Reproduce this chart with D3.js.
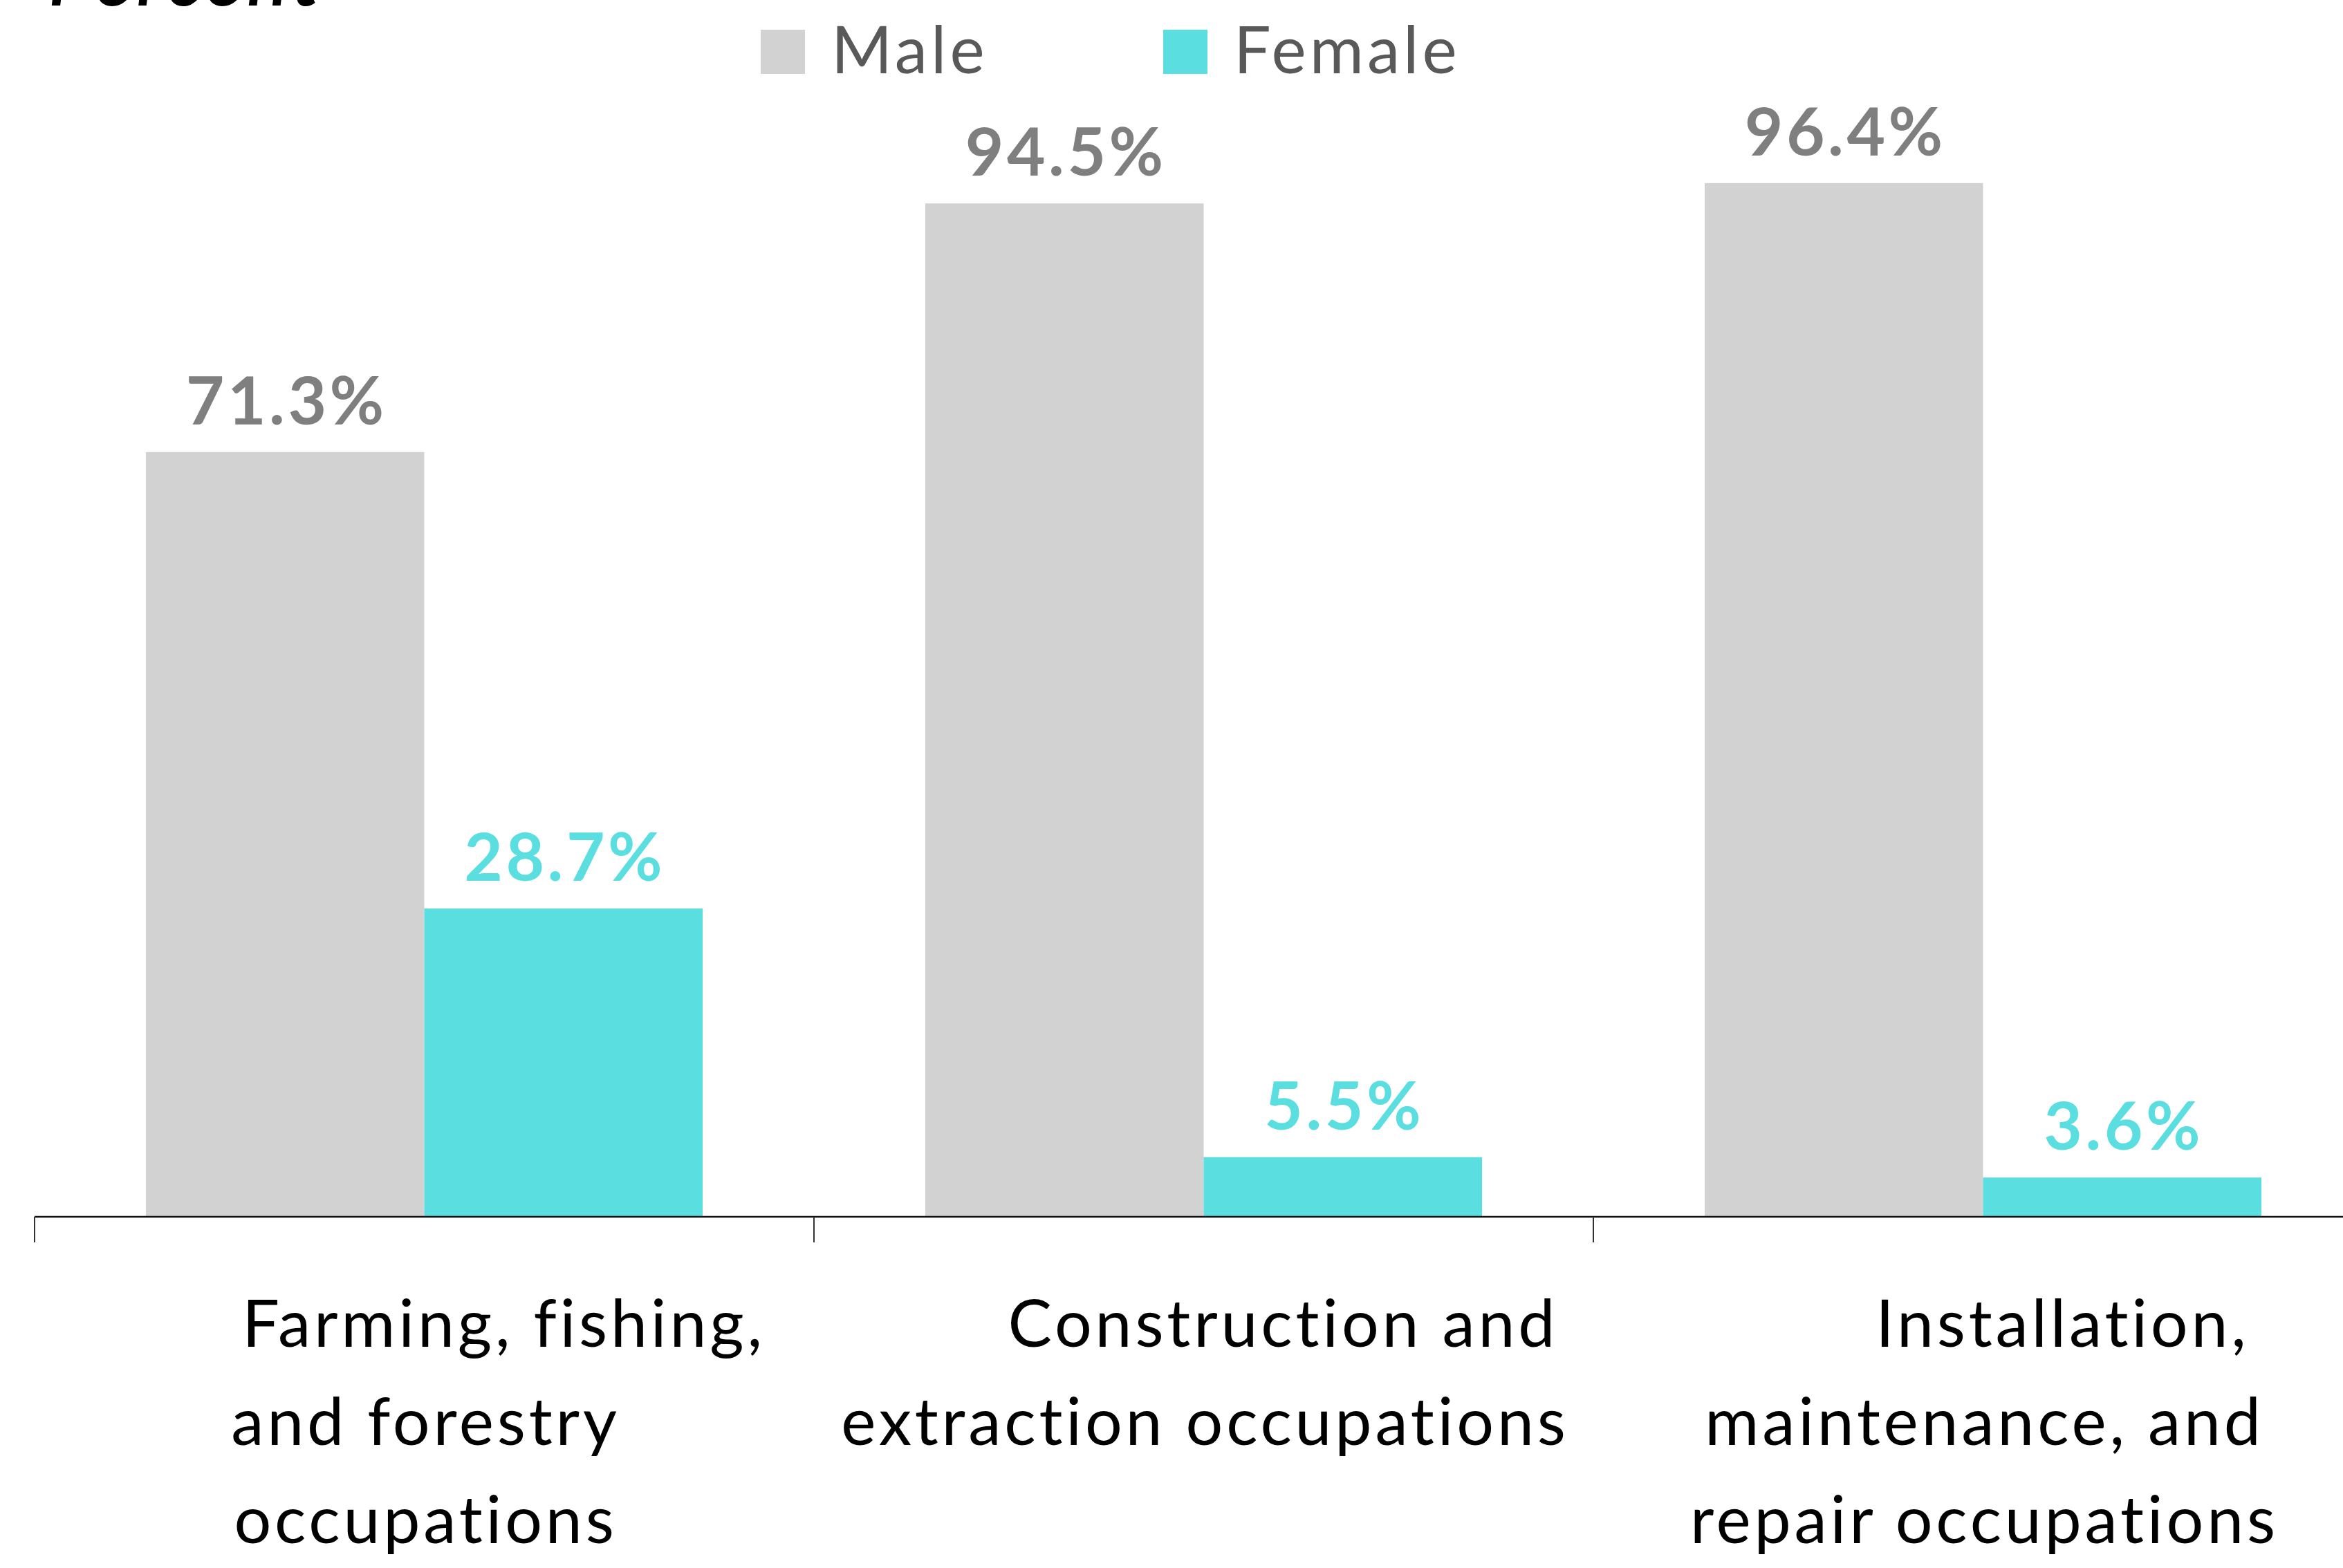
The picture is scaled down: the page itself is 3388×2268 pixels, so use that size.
<!DOCTYPE html>
<html>
<head>
    <meta charset="utf-8">
    <script src="https://d3js.org/d3.v7.min.js"></script>
    <style>
        body { margin: 0; background: #fff; }
        svg { display: block; }
        text { font-family: Lato, "Open Sans", sans-serif; font-variant-ligatures: none; }
    </style>
</head>
<body>
    <svg></svg>
</body>

<script>
    // Data
    var categories = [
        ["Farming, fishing,", "and forestry", "occupations"],
        ["Construction and", "extraction occupations"],
        ["Installation,", "maintenance, and", "repair occupations"]
    ];
    var series = ["Male", "Female"];
    var maleValues = [71.3, 94.5, 96.4];
    var femaleValues = [28.7, 5.5, 3.6];

    // Variables
    var width = 3388;
    var height = 2268;
    var colors = { Male: "#d2d2d2", Female: "#5adee0" };
    var labelColors = { Male: "#7f7f7f", Female: "#5adee0" };
    var bandWidth = 1127;
    var axisY = 1760;

    var svg = d3.select("svg")
        .attr("width", width)
        .attr("height", height);

    var names = categories.map(function (c) { return c.join(" "); });

    var rows = names.map(function (n, i) {
        return { name: n, lines: categories[i], Male: maleValues[i], Female: femaleValues[i] };
    });

    // Scales
    var x0 = d3.scaleBand()
        .domain(names)
        .range([50, 50 + bandWidth * names.length]);

    var x1 = d3.scaleBand()
        .domain(series)
        .range([0, x0.bandwidth()])
        .paddingInner(0)
        .paddingOuter(0.4);

    var y = d3.scaleLinear()
        .domain([0, 100])
        .range([axisY - 1, 209]);

    // Bars
    var groups = svg.selectAll("g.group")
        .data(rows)
        .enter().append("g")
        .attr("class", "group")
        .attr("transform", function (d) { return "translate(" + x0(d.name) + ",0)"; });

    var cells = groups.selectAll("g.cell")
        .data(function (d) { return series.map(function (s) { return { key: s, value: d[s] }; }); })
        .enter().append("g")
        .attr("class", "cell");

    cells.append("rect")
        .attr("x", function (d) { return x1(d.key); })
        .attr("y", function (d) { return y(d.value); })
        .attr("width", x1.bandwidth())
        .attr("height", function (d) { return y(0) - y(d.value); })
        .style("fill", function (d) { return colors[d.key]; });

    cells.append("text")
        .attr("x", function (d) { return x1(d.key) + x1.bandwidth() / 2 + 2; })
        .attr("y", function (d) { return y(d.value) - 40; })
        .attr("text-anchor", "middle")
        .style("font-size", "96px")
        .style("font-weight", "bold")
        .style("letter-spacing", "4.5px")
        .style("fill", function (d) { return labelColors[d.key]; })
        .text(function (d) { return d.value.toFixed(1) + "%"; });

    // Axis
    var axis = svg.append("g");
    axis.append("line")
        .attr("x1", x0.range()[0])
        .attr("x2", width)
        .attr("y1", axisY)
        .attr("y2", axisY)
        .style("stroke", "#111")
        .style("stroke-width", 2.5);

    axis.selectAll("line.tick")
        .data(names)
        .enter().append("line")
        .attr("class", "tick")
        .attr("x1", function (d) { return x0(d); })
        .attr("x2", function (d) { return x0(d); })
        .attr("y1", axisY)
        .attr("y2", axisY + 37)
        .style("stroke", "#333")
        .style("stroke-width", 2);

    // Category labels
    var catLabels = svg.selectAll("text.cat")
        .data(rows)
        .enter().append("text")
        .attr("class", "cat")
        .attr("text-anchor", "middle")
        .style("font-size", "95px")
        .style("letter-spacing", "4.8px")
        .style("fill", "#000");

    catLabels.selectAll("tspan")
        .data(function (d) { return d.lines.map(function (l, i) { return { line: l, i: i, cx: x0(d.name) + x0.bandwidth() / 2 + 2 }; }); })
        .enter().append("tspan")
        .attr("x", function (d) { return d.i === 0 ? d.cx + 113 : d.cx; })
        .attr("y", function (d) { return 1948 + d.i * 142; })
        .text(function (d) { return d.line; });

    // Legend
    var legend = svg.selectAll("g.legend")
        .data(series)
        .enter().append("g")
        .attr("class", "legend")
        .attr("transform", function (d, i) { return "translate(" + (1100 + i * 582) + ",43)"; });

    legend.append("rect")
        .attr("width", 64)
        .attr("height", 64)
        .style("fill", function (d) { return colors[d]; });

    legend.append("text")
        .attr("x", 102)
        .attr("y", 63)
        .style("font-size", "95px")
        .style("letter-spacing", "5px")
        .style("fill", "#595959")
        .text(function (d) { return d; });

    // Y title (cut off at the top)
    svg.append("text")
        .attr("x", 70)
        .attr("y", 8)
        .style("font-size", "110px")
        .style("font-style", "italic")
        .style("font-weight", 600)
        .style("letter-spacing", "7px")
        .style("fill", "#000")
        .text("Percent");
</script>
</html>
